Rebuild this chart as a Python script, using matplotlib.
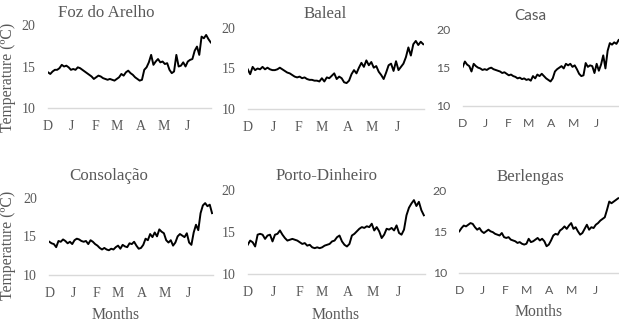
import numpy as np
import matplotlib.pyplot as plt

W, H = 619, 327

MONTH_LABELS = ["D", "J", "F", "M", "A", "M", "J"]
MONTH_DAYS = [0, 31, 62, 90, 121, 151, 182]
STEP = 3  # one reading every 3 days

FOZ = [14.3, 14.1, 14.4, 14.6, 14.6, 14.8, 15.2, 15.0, 15.1, 14.9,
       14.6, 14.7, 14.6, 14.9, 14.8, 14.6, 14.4, 14.2, 14.0, 13.8,
       13.5, 13.7, 13.9, 13.8, 13.6, 13.5, 13.4, 13.5, 13.4, 13.3,
       13.5, 13.7, 14.1, 13.9, 14.3, 14.5, 14.2, 14.0, 13.7, 13.5,
       13.3, 13.4, 14.6, 14.9, 15.5, 16.4, 15.2, 15.6, 15.9, 15.5,
       15.6, 15.3, 15.4, 14.6, 14.2, 14.4, 16.4, 15.0, 15.1, 15.5,
       15.0, 15.6, 15.8, 15.9, 16.9, 17.4, 16.4, 18.6, 18.4, 18.8,
       18.3, 17.9]
BALEAL = [14.9, 14.3, 15.2, 14.8, 15.0, 14.9, 15.2, 14.9, 15.1, 14.9,
          14.8, 14.8, 14.9, 15.1, 14.9, 14.7, 14.5, 14.4, 14.2, 14.0,
          13.9, 14.0, 13.8, 13.9, 13.7, 13.6, 13.6, 13.5, 13.5, 13.4,
          13.8, 13.4, 13.9, 13.8, 14.1, 14.4, 13.7, 14.0, 13.8, 13.3,
          13.2, 13.5, 14.3, 14.8, 14.4, 15.1, 15.7, 15.2, 16.0, 15.4,
          15.8, 15.1, 15.3, 14.6, 14.2, 13.7, 14.5, 15.4, 15.6, 14.7,
          15.9, 14.8, 15.2, 15.6, 16.4, 17.6, 16.6, 18.0, 18.4, 17.9,
          18.3, 18.0]
CASA = [15.1, 15.8, 15.4, 15.2, 14.5, 15.5, 15.2, 15.0, 14.9, 14.7,
        14.8, 14.7, 14.9, 15.0, 14.8, 14.7, 14.6, 14.5, 14.3, 14.4,
        14.2, 14.0, 14.1, 13.9, 13.8, 13.6, 13.7, 13.5, 13.6, 13.4,
        13.5, 13.3, 13.9, 13.6, 14.1, 13.9, 14.2, 13.9, 13.6, 13.4,
        13.2, 13.6, 14.5, 14.8, 15.0, 15.2, 14.9, 15.5, 15.3, 15.5,
        15.1, 15.3, 14.8, 14.2, 13.9, 14.0, 15.6, 15.1, 15.3, 15.2,
        14.3, 15.5, 14.6, 15.4, 16.6, 14.9, 17.2, 18.2, 18.0, 18.3,
        18.1, 18.6]
CONSOLACAO = [14.3, 14.1, 14.0, 13.6, 14.4, 14.3, 14.6, 14.4, 14.1, 14.3,
              14.0, 14.5, 14.7, 14.6, 14.4, 14.3, 14.4, 14.0, 14.5, 14.3,
              14.0, 13.8, 13.5, 13.3, 13.5, 13.3, 13.2, 13.4, 13.3, 13.6,
              13.8, 13.4, 13.9, 13.7, 13.6, 14.1, 14.0, 14.3, 13.8, 13.4,
              13.5, 13.9, 14.7, 14.5, 15.3, 14.9, 15.5, 15.0, 15.9, 15.6,
              15.4, 14.5, 14.2, 14.5, 13.8, 14.2, 15.0, 15.3, 15.1, 14.9,
              15.4, 14.2, 13.9, 15.5, 16.5, 15.8, 18.0, 19.0, 19.3, 18.9,
              19.1, 18.0]
PORTO = [13.5, 14.0, 13.8, 13.3, 14.7, 14.8, 14.7, 14.2, 14.6, 14.7,
         13.9, 14.7, 14.8, 15.2, 14.7, 14.3, 14.0, 14.1, 14.2, 14.1,
         14.0, 13.8, 13.6, 13.7, 13.4, 13.5, 13.2, 13.1, 13.2, 13.1,
         13.2, 13.4, 13.5, 13.6, 13.9, 14.0, 14.4, 14.6, 13.9, 13.5,
         13.3, 13.6, 14.6, 14.8, 15.1, 15.4, 15.6, 15.5, 15.7, 15.6,
         16.0, 15.2, 15.6, 15.1, 14.3, 14.7, 15.4, 15.3, 15.5, 15.2,
         15.8, 14.9, 14.7, 15.3, 17.0, 17.9, 18.4, 18.8, 18.1, 18.6,
         17.6, 17.0]
BERLENGAS = [15.0, 15.4, 15.7, 15.6, 15.8, 16.0, 15.9, 15.5, 15.2, 15.4,
             15.0, 14.8, 15.0, 15.2, 15.0, 14.9, 14.7, 14.6, 14.5, 14.8,
             14.3, 14.2, 14.3, 14.0, 13.9, 13.8, 13.6, 13.7, 13.5, 13.4,
             13.5, 14.1, 13.7, 13.8, 14.0, 14.2, 13.9, 14.1, 13.8, 13.2,
             13.4, 13.9, 14.5, 14.7, 14.6, 15.1, 15.3, 15.6, 15.3, 15.7,
             16.0, 15.3, 15.5, 15.0, 14.6, 14.8, 15.3, 15.8, 15.2, 15.5,
             15.4, 15.8, 16.0, 16.3, 16.5, 16.7, 17.6, 18.6, 18.4, 18.6,
             18.8, 19.0]

GRAY = "#595959"
SERIF = "Liberation Serif"
SANS = "Lato"
FONT_SIZE = {SERIF: 10, SANS: 8.8}
TITLE_SIZE = {SERIF: 12.2, SANS: 11}

# name, data, (day-0 x px, px per day, y px of 20, y px of 10), title centre px, fonts
PANELS = [
    ("Foz do Arelho", FOZ, (48, 0.764, 25, 108), (106.7, 13.3), SERIF, SERIF),
    ("Baleal", BALEAL, (247.7, 0.824, 28, 109), (325, 14.3), SERIF, SERIF),
    ("Casa", CASA, (462.7, 0.732, 29.3, 106), (530, 16), SANS, SANS),
    ("Consolação", CONSOLACAO, (49.3, 0.764, 197.7, 275), (108.3, 176), SERIF, SERIF),
    ("Porto-Dinheiro", PORTO, (247.7, 0.827, 190, 274.3), (326.7, 175.7), SERIF, SERIF),
    ("Berlengas", BERLENGAS, (459.3, 0.746, 190, 272.7), (530, 177.3), SERIF, SANS),
]
NDAYS = 214


def fx(x):
    return x / W


def fy(y):
    return 1 - y / H


fig = plt.figure(figsize=(W / 100, H / 100), dpi=100)
fig.patch.set_facecolor("white")

for name, vals, (x0, s, y20, y10), (tx, ty), tfont, kfont in PANELS:
    ax = fig.add_axes([fx(x0), fy(y10), s * NDAYS / W, (y10 - y20) / H])
    days = np.arange(len(vals)) * STEP
    ax.plot(days, vals, color="black", lw=1.4)
    ax.set_xlim(0, NDAYS)
    ax.set_ylim(10, 20)
    ax.set_yticks([10, 15, 20])
    ax.set_xticks(MONTH_DAYS)
    ax.set_xticklabels(MONTH_LABELS)
    for sp in ["top", "right", "left"]:
        ax.spines[sp].set_visible(False)
    ax.spines["bottom"].set_color("#d9d9d9")
    ax.spines["bottom"].set_linewidth(1)
    ax.tick_params(axis="both", length=0, labelcolor=GRAY,
                   labelsize=FONT_SIZE[kfont])
    ax.tick_params(axis="x", pad=8.5)
    ax.tick_params(axis="y", pad=9)
    for lab in ax.get_xticklabels() + ax.get_yticklabels():
        lab.set_family(kfont)
    fig.text(fx(tx), fy(ty), name, ha="center", va="center",
             fontsize=TITLE_SIZE[tfont], color=GRAY, family=tfont)

for yc in (77, 245):
    fig.text(fx(8.3), fy(yc), "Temperature (ºC)", rotation=90,
             ha="center", va="center", fontsize=11.3, color=GRAY, family=SERIF)

for xc, yc in ((116, 315), (336, 315), (538.3, 311.7)):
    fig.text(fx(xc), fy(yc), "Months", ha="center", va="center",
             fontsize=11.3, color=GRAY, family=SERIF)

fig.savefig("out.png", dpi=100, facecolor="white")
